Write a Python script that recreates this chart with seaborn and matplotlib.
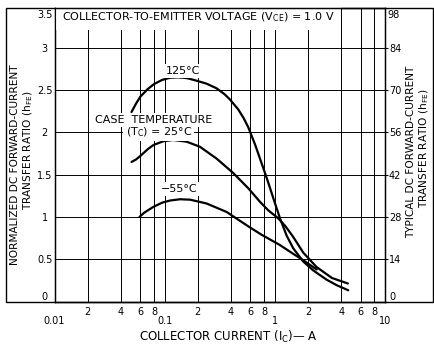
import matplotlib
matplotlib.use("Agg")
import numpy as np
import pandas as pd
import matplotlib.pyplot as plt
import seaborn as sns
from matplotlib import ticker
from matplotlib.patches import Rectangle

# collector current (A) and normalized hFE
ic_125 = [0.050, 0.055, 0.060, 0.070, 0.080, 0.095, 0.112, 0.133, 0.16, 0.195,
          0.24, 0.296, 0.35, 0.39, 0.466, 0.52, 0.574, 0.66, 0.785, 0.87,
          0.97, 1.11, 1.28, 1.47, 1.81, 2.23, 2.95, 3.64, 4.64]
hfe_125 = [2.24, 2.34, 2.42, 2.51, 2.57, 2.62, 2.645, 2.65, 2.64, 2.61,
           2.575, 2.52, 2.45, 2.39, 2.27, 2.17, 2.06, 1.86, 1.58, 1.41,
           1.22, 0.99, 0.78, 0.63, 0.475, 0.37, 0.26, 0.195, 0.135]

ic_25 = [0.050, 0.055, 0.060, 0.070, 0.079, 0.097, 0.12, 0.158, 0.209, 0.296,
         0.419, 0.574, 0.733, 0.87, 1.04, 1.11, 1.25, 1.46, 1.81, 2.39,
         3.3, 4.6]
hfe_25 = [1.65, 1.68, 1.72, 1.80, 1.85, 1.895, 1.91, 1.89, 1.83, 1.69,
          1.52, 1.34, 1.18, 1.08, 1.00, 0.965, 0.89, 0.77, 0.58, 0.41,
          0.28, 0.215]

ic_m55 = [0.059, 0.065, 0.079, 0.095, 0.112, 0.138, 0.17, 0.24, 0.365, 0.574,
          0.76, 1.11, 1.45, 1.81, 2.4]
hfe_m55 = [1.0, 1.05, 1.12, 1.17, 1.195, 1.21, 1.205, 1.16, 1.06, 0.89,
           0.79, 0.67, 0.57, 0.49, 0.38]

x_major = [0.01, 0.1, 1, 10]
x_major_labels = ["0.01", "0.1", "1", "10"]
x_minor_digits = [2, 4, 6, 8]
y_left_ticks = [0, 0.5, 1, 1.5, 2, 2.5, 3]
y_left_labels = ["0", "0.5", "1", "1.5", "2", "2.5", "3"]
y_right_ticks = [0, 14, 28, 42, 56, 70, 84]
y_top_label, y_right_top_label = "3.5", "98"
right_scale = 28

df = pd.concat([
    pd.DataFrame({"ic": ic_125, "hfe": hfe_125, "temp": "125"}),
    pd.DataFrame({"ic": ic_25, "hfe": hfe_25, "temp": "25"}),
    pd.DataFrame({"ic": ic_m55, "hfe": hfe_m55, "temp": "-55"}),
])

sns.set_style("white", rc={"axes.edgecolor": "black", "text.color": "black",
                           "xtick.color": "black", "ytick.color": "black"})
plt.rcParams["font.family"] = ["DejaVu Sans"]

W, H = 434, 345
fig = plt.figure(figsize=(W / 100, H / 100), dpi=100)
x0, x1, yb, yt = 54.5, 385, 301.7, 8
ax = fig.add_axes([x0 / W, 1 - yb / H, (x1 - x0) / W, (yb - yt) / H])
y_top = (yb - yt) / 84.67

sns.lineplot(data=df, x="ic", y="hfe", units="temp", estimator=None,
             color="black", lw=1.6, ax=ax, zorder=3)
ax.set_xscale("log")
ax.set_xlim(0.01, 10)
ax.set_ylim(0, y_top)
ax.set_xlabel("")
ax.set_ylabel("")
ax.set_axisbelow(True)

x_minor = [d * m for m in x_major[:-1] for d in x_minor_digits]
ax.xaxis.set_major_locator(ticker.FixedLocator(x_major))
ax.xaxis.set_major_formatter(ticker.FixedFormatter(x_major_labels))
ax.xaxis.set_minor_locator(ticker.FixedLocator(x_minor))
ax.xaxis.set_minor_formatter(ticker.FixedFormatter([str(d) for m in x_major[:-1] for d in x_minor_digits]))
ax.tick_params(axis="x", which="major", length=7.5, width=1, pad=2.5, labelsize=7)
ax.tick_params(axis="x", which="minor", length=0, pad=4, labelsize=7)
ax.set_yticks(y_left_ticks)
ax.set_yticklabels(y_left_labels)
ax.tick_params(axis="y", which="both", length=0, pad=7, labelsize=7)
for t in ax.get_yticklabels():
    t.set_ha("center")
ax.get_yticklabels()[0].set_va("bottom")
ax.grid(True, which="both", axis="x", color="black", lw=0.7)
ax.grid(True, which="major", axis="y", color="black", lw=0.7)
for s in ax.spines.values():
    s.set_linewidth(1.0)

ax2 = ax.twinx()
ax2.set_ylim(0, y_top * right_scale)
ax2.set_yticks(y_right_ticks)
ax2.set_yticklabels([str(v) for v in y_right_ticks])
ax2.tick_params(axis="y", length=2, width=0.8, pad=0.8, labelsize=7)
ax2.get_yticklabels()[0].set_va("bottom")
ax2.grid(False)

ax.annotate(y_top_label, xy=(0, 1), xycoords="axes fraction", xytext=(-6.8, -5),
            textcoords="offset points", ha="center", va="center", fontsize=7)
ax2.annotate(y_right_top_label, xy=(1, 1), xycoords="axes fraction", xytext=(1.8, -5),
             textcoords="offset points", ha="left", va="center", fontsize=7)

white = dict(facecolor="white", edgecolor="none", pad=1.5)
ax.annotate(r"COLLECTOR-TO-EMITTER VOLTAGE (V$_{\mathregular{CE}}$) = 1.0 V",
            xy=(0, 1), xycoords="axes fraction", xytext=(5.4, -6.5),
            textcoords="offset points", ha="left", va="center", fontsize=8,
            bbox=dict(facecolor="white", edgecolor="none", pad=4.5), zorder=5)
ax.text(0.1466, 2.725, "125°C", ha="center", va="center", fontsize=8, bbox=white, zorder=4)
ax.text(0.0795, 2.146, "CASE  TEMPERATURE", ha="center", va="center", fontsize=8,
        bbox=white, zorder=4)
ax.text(0.0886, 2.0, r"(T$_{\mathregular{C}}$) = 25°C", ha="center", va="center",
        fontsize=8, bbox=white, zorder=4)
ax.text(0.135, 1.33, "\u221255°C", ha="center", va="center", fontsize=8, bbox=white, zorder=4)

fig.add_artist(Rectangle((6 / W, 1 - 302 / H), (433 - 6) / W, (302 - 8) / H,
                         transform=fig.transFigure, fill=False, ec="black", lw=1.0))

lab = dict(rotation=90, ha="center", va="center", fontsize=7.6)
fig.text(15.5 / W, 1 - 165 / H, "NORMALIZED DC FORWARD-CURRENT", **lab)
fig.text(28.5 / W, 1 - 150 / H, r"TRANSFER RATIO (h$_{\mathregular{FE}}$)", **lab)
fig.text(411.5 / W, 1 - 152 / H, "TYPICAL DC FORWARD-CURRENT", **lab)
fig.text(424.5 / W, 1 - 148 / H, r"TRANSFER RATIO (h$_{\mathregular{FE}}$)", **lab)
fig.text(228 / W, 1 - 337 / H, r"COLLECTOR CURRENT (I$_{\mathregular{C}}$)— A",
         ha="center", va="center", fontsize=8.5)

fig.savefig("out.png", dpi=100)
